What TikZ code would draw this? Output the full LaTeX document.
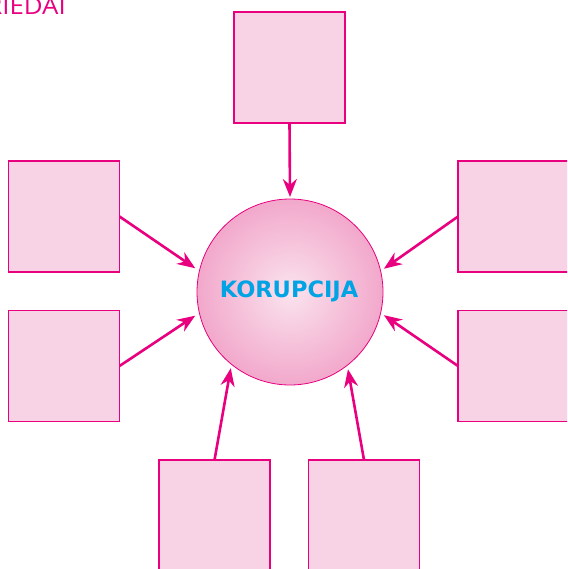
\documentclass[tikz,border=0pt]{standalone}
\usepackage{fontspec}
\setmainfont{Open Sans}
\newfontfamily\labelfont{DejaVu Sans}
\usetikzlibrary{arrows.meta}
\definecolor{mag}{HTML}{E8007F}
\definecolor{boxfill}{HTML}{F8D3E5}
\definecolor{ballin}{HTML}{FAE3EE}
\definecolor{ballout}{HTML}{F2A8CB}
\definecolor{txtblue}{HTML}{00A3E4}
\tikzset{
  emptybox/.style={draw=mag, line width=1.2pt, fill=boxfill, minimum width=111pt, minimum height=111pt, inner sep=0pt, outer sep=0pt},
  link/.style={draw=mag, line width=2.6pt, -{Stealth[length=18pt,width=14pt]}},
}
\begin{document}
\begin{tikzpicture}[x=1pt,y=-1pt]
\useasboundingbox (0,0) rectangle (567,569);
\clip (0,0) rectangle (567,569);
\node[anchor=base east, text=mag, font=\fontsize{23.5}{23.5}\selectfont, inner sep=0pt] (title) at (66,15) {\scalebox{1.1}[1]{PRIEDAI}};
\node[emptybox] (top) at (289.5,67.5) {};
\node[emptybox] (lu) at (64,216.5) {};
\node[emptybox] (ll) at (64,366) {};
\node[emptybox] (ru) at (513.5,216.5) {};
\node[emptybox] (rl) at (513.5,366) {};
\node[emptybox] (bl) at (214.5,515.5) {};
\node[emptybox] (br) at (364,515.5) {};
\node[circle, draw=mag, line width=0.8pt, inner color=ballin, outer color=ballout, minimum size=186pt, inner sep=0pt, outer sep=0pt] (circ) at (290,292) {};
\node[text=txtblue, font=\labelfont\fontsize{22.5}{22.5}\bfseries\selectfont, inner sep=0pt] (lbl) at (289,291) {KORUPCIJA};
\draw[link, shorten >=2pt] (top.south) -- (circ.90);
\draw[link, shorten >=5pt] (lu.east) -- (circ.167);
\draw[link, shorten >=5pt] (ll.east) -- (circ.193);
\draw[link, shorten >=4pt] (ru.west) -- (circ.13);
\draw[link, shorten >=4pt] (rl.west) -- (circ.347);
\draw[link, shorten >=4pt] (bl.north) -- (circ.231);
\draw[link, shorten >=4pt] (br.north) -- (circ.308);
\end{tikzpicture}
\end{document}
